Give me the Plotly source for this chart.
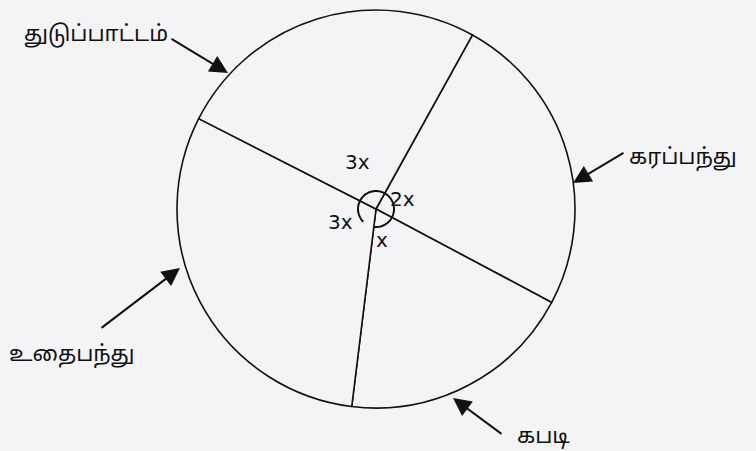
import numpy as np
import plotly.graph_objects as go

W, H = 756, 451

# sports and the sector angles as drawn in the figure
sports = ["கரப்பந்து", "கபடி", "உதைபந்து", "துடுப்பாட்டம்"]
angles = [89, 69, 110, 92]
angle_labels = ["2x", "x", "3x", "3x"]

bg = "#f4f4f7"
tamil_font = dict(family="Noto Sans Tamil, Lohit Tamil, Noto Sans, sans-serif", size=22, color="#111")
sym_font = dict(family="DejaVu Sans, sans-serif", size=20, color="#111")


def px(x):
    return x / W


def py(y):
    return 1 - y / H


# pie centre and radius in pixels
cx, cy, r = 376, 209, 199

fig = go.Figure(go.Pie(
    labels=sports,
    values=angles,
    sort=False,
    direction="clockwise",
    rotation=29,
    textinfo="none",
    hoverinfo="skip",
    showlegend=False,
    marker=dict(colors=[bg] * len(sports), line=dict(color="#111", width=1.6)),
    domain=dict(x=[px(cx - r), px(cx + r)], y=[py(cy + r), py(cy - r)]),
))

# small angle arc round the centre
t = np.radians(np.linspace(135, 457, 80))
ax_pts = cx + 18 * np.cos(t)
ay_pts = cy + 18 * np.sin(t)
path = "M " + " L ".join(f"{px(a):.5f},{py(b):.5f}" for a, b in zip(ax_pts, ay_pts))
fig.add_shape(type="path", path=path, xref="paper", yref="paper",
              line=dict(color="#111", width=2))

annos = []
# angle labels
for txt, (x, y) in zip(angle_labels, [(402, 199), (382, 240), (340, 222), (357, 162)]):
    annos.append(dict(x=px(x), y=py(y), text=txt, showarrow=False, font=sym_font,
                      xref="paper", yref="paper", xanchor="center", yanchor="middle"))

# sport names
for txt, (x, y) in zip(sports, [(683, 158), (543, 437), (72, 355), (96, 35)]):
    annos.append(dict(x=px(x), y=py(y), text=txt, showarrow=False, font=tamil_font,
                      xref="paper", yref="paper", xanchor="center", yanchor="middle"))

# arrows: tip -> tail
for (x1, y1), (x0, y0) in [((573, 183), (625, 152)), ((453, 398), (503, 435)),
                           ((180, 268), (100, 329)), ((228, 73), (170, 38))]:
    annos.append(dict(x=px(x1), y=py(y1), ax=x0 - x1, ay=y0 - y1, text="",
                      xref="paper", yref="paper", showarrow=True,
                      arrowhead=2, arrowsize=1.8, arrowwidth=2, arrowcolor="#111"))

fig.update_layout(
    width=W, height=H,
    margin=dict(l=0, r=0, t=0, b=0),
    paper_bgcolor=bg, plot_bgcolor=bg,
    annotations=annos,
)

fig.write_html("out.html", config={"displayModeBar": False},
               post_script="document.body.style.margin='0';")
